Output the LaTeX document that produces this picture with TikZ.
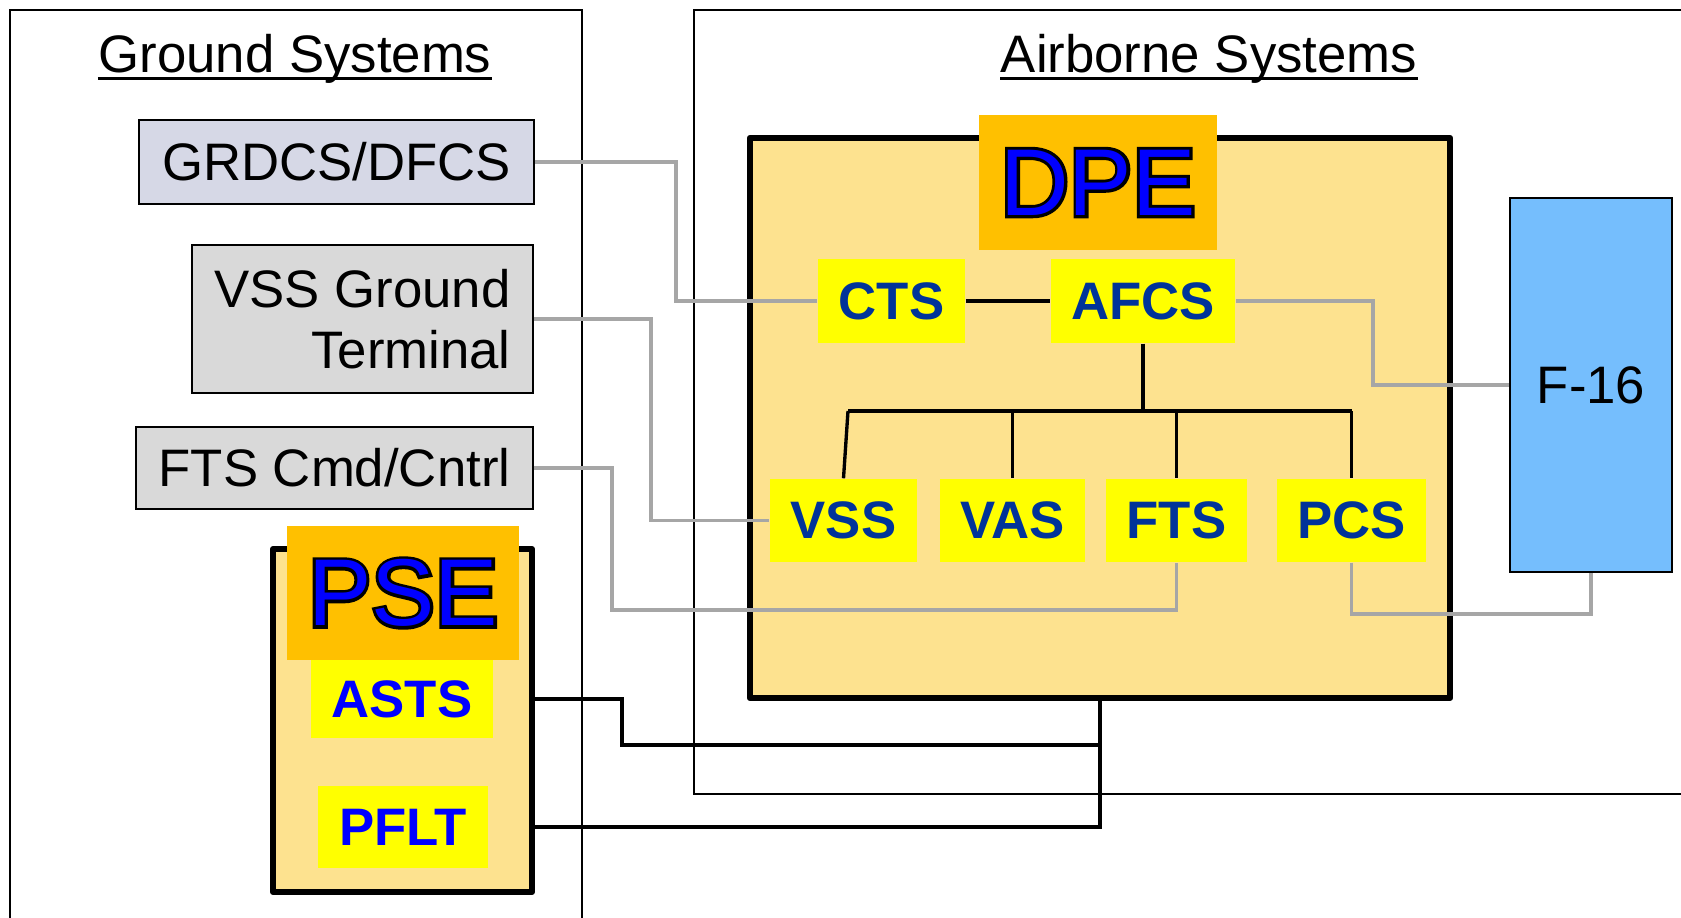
\documentclass[tikz,border=0pt]{standalone}
\usepackage{fontspec}
\setmainfont{Liberation Sans}
\newfontfamily\outlinefont[FakeBold=6.5]{Liberation Sans}
\definecolor{peach}{RGB}{253,226,143}
\definecolor{titleor}{RGB}{255,192,0}
\definecolor{yel}{RGB}{255,255,0}
\definecolor{lav}{RGB}{214,216,230}
\definecolor{lgray}{RGB}{217,217,217}
\definecolor{sky}{RGB}{117,190,253}
\definecolor{linegray}{RGB}{166,166,166}
\definecolor{navy}{RGB}{0,51,153}
\newcommand\outlined[1]{{\color{black}\rlap{\outlinefont #1}}{\color{blue}#1}}
\tikzset{
  gbox/.style={draw=black, line width=0.5pt, inner sep=0pt, font=\fontsize{15}{17.3}\selectfont},
  ybox/.style={fill=yel, inner sep=0pt, font=\fontsize{15}{18}\selectfont\bfseries, text=navy},
  ttl/.style={fill=titleor, inner sep=0pt, font=\fontsize{27}{30}\selectfont},
  gl/.style={draw=linegray, line width=1pt},
  bl/.style={draw=black, line width=0.95pt},
  grp/.style={draw=black, line width=0.6pt},
  pbox/.style={draw=black, line width=1.6pt, line join=round, fill=peach, inner sep=0pt},
  gtitle/.style={inner sep=0pt, anchor=base, font=\fontsize{15}{18}\selectfont},
}
\begin{document}
\begin{tikzpicture}[x=0.01cm, y=-0.01cm]
\useasboundingbox (0,0) rectangle (1681,917);
\clip (0,0) rectangle (1681,917);
% group frames
\draw[grp] (9.6,9.6) rectangle (582,960);
\draw[grp] (694,9.6) rectangle (1720,794);
% titles
\node[gtitle] (gt) at (295,72) {Ground Systems};
\draw[line width=0.7pt] ([yshift=-1.8pt]gt.base west) -- ([yshift=-1.8pt]gt.base east);
\node[gtitle] (at) at (1209,72) {Airborne Systems};
\draw[line width=0.7pt] ([yshift=-1.8pt]at.base west) -- ([yshift=-1.8pt]at.base east);
% ground boxes
\node[gbox, fill=lav, minimum width=3.95cm, minimum height=0.84cm] (grdcs) at (336.5,162) {GRDCS/DFCS};
\node[gbox, fill=lgray, minimum width=3.41cm, minimum height=1.48cm, align=right] (vssgt) at (362.5,319) {VSS Ground\\Terminal};
\node[gbox, fill=lgray, minimum width=3.97cm, minimum height=0.82cm] (ftscmd) at (334.5,468) {FTS Cmd/Cntrl};
% PSE
\node[pbox, minimum width=2.59cm, minimum height=3.43cm] (pse) at (402.5,720.5) {};
\node[ttl, minimum width=2.32cm, minimum height=1.34cm] (psettl) at (403,593) {\outlined{PSE}};
\node[ybox, text=blue, minimum width=1.82cm, minimum height=0.78cm] (asts) at (402,699) {ASTS};
\node[ybox, text=blue, minimum width=1.70cm, minimum height=0.82cm] (pflt) at (403,827) {PFLT};
% DPE
\node[pbox, minimum width=7.00cm, minimum height=5.60cm] (dpe) at (1100,418) {};
\node[ttl, minimum width=2.38cm, minimum height=1.35cm] (dpettl) at (1098,182.5) {\outlined{DPE}};
\node[ybox, minimum width=1.47cm, minimum height=0.84cm] (cts) at (891.5,301) {CTS};
\node[ybox, minimum width=1.84cm, minimum height=0.84cm] (afcs) at (1143,301) {AFCS};
\node[ybox, minimum width=1.47cm, minimum height=0.83cm] (vss) at (843.5,520.5) {VSS};
\node[ybox, minimum width=1.45cm, minimum height=0.83cm] (vas) at (1012.5,520.5) {VAS};
\node[ybox, minimum width=1.41cm, minimum height=0.83cm] (fts) at (1176.5,520.5) {FTS};
\node[ybox, minimum width=1.49cm, minimum height=0.83cm] (pcs) at (1351.5,520.5) {PCS};
% F-16
\node[draw=black, line width=0.6pt, fill=sky, inner sep=0pt, minimum width=1.62cm, minimum height=3.74cm, font=\fontsize{15}{18}\selectfont] (f16) at (1591,385) {F-16};
% gray connectors
\draw[gl] (grdcs.east) -| (676,301) -- (cts.west);
\draw[gl] (vssgt.east) -| (651,520.5) -- (vss.west);
\draw[gl] (ftscmd.east) -| (612,610) -| (fts.south);
\draw[gl] (afcs.east) -| (1373,385) -- (f16.west);
\draw[gl] (pcs.south) -- ++(0,51) -| (f16.south);
% black connectors
\draw[bl] (cts.east) -- (afcs.west);
\coordinate (bus) at (1143,411);
\coordinate (busL) at (848,411);
\draw[bl] (afcs.south) -- (bus);
\draw[bl] (busL) -- (pcs.north |- bus);
\draw[bl] (busL) -- (vss.north);
\draw[bl] (vas.north |- bus) -- (vas.north);
\draw[bl] (fts.north |- bus) -- (fts.north);
\draw[bl] (pcs.north |- bus) -- (pcs.north);
\draw[bl] (pse.east |- asts.east) -| (622,745) -| (dpe.south);
\draw[bl] (pse.east |- pflt.east) -| (dpe.south);
\end{tikzpicture}
\end{document}
